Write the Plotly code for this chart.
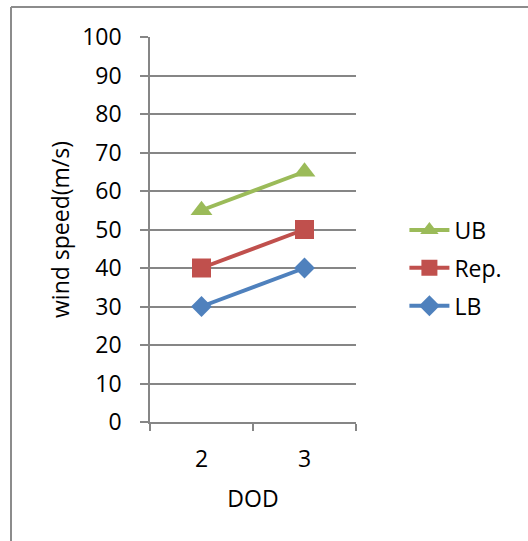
import plotly.graph_objects as go

categories = ["2", "3"]
ub_values = [55, 65]
rep_values = [40, 50]
lb_values = [30, 40]
y_ticks = [0, 10, 20, 30, 40, 50, 60, 70, 80, 90, 100]

FONT = "Open Sans"
GRID = "#868686"
FS = 23

fig = go.Figure()
series = [
    ("UB", ub_values, "#9BBB59", "triangle-up", 19),
    ("Rep.", rep_values, "#C0504D", "square", 19),
    ("LB", lb_values, "#4F81BD", "diamond", 16),
]
for name, vals, color, sym, size in series:
    fig.add_trace(go.Scatter(
        x=categories, y=vals, name=name, mode="lines+markers",
        line=dict(color=color, width=4),
        marker=dict(symbol=sym, size=size, color=color),
        legendgroup=name,
    ))

fig.update_layout(
    width=528, height=541,
    margin=dict(l=150, r=172, t=37, b=119),
    paper_bgcolor="white", plot_bgcolor="white",
    font=dict(family=FONT, size=FS, color="black"),
    showlegend=True,
    legend=dict(x=1.235, y=0.40, xanchor="left", yanchor="middle",
                tracegroupgap=5, itemwidth=40,
                font=dict(family=FONT, size=FS, color="black")),
    xaxis=dict(type="category", range=[-0.5, 1.5], showgrid=False,
               showline=True, linecolor=GRID, linewidth=1.5,
               ticks="outside", ticklen=7, tickcolor=GRID, tickwidth=1.5,
               tickson="boundaries", ticklabelstandoff=16,
               tickfont=dict(family=FONT, size=FS, color="black"),
               title=dict(text="DOD", standoff=18,
                          font=dict(family=FONT, size=FS, color="black"))),
    yaxis=dict(range=[0, 100], tickvals=y_ticks, showgrid=True,
               gridcolor=GRID, gridwidth=1.5, zeroline=False,
               showline=True, linecolor=GRID, linewidth=1.5,
               ticks="outside", ticklen=8, tickcolor=GRID, tickwidth=1.5,
               ticklabelstandoff=14,
               tickfont=dict(family=FONT, size=FS, color="black"),
               title=dict(text="wind speed(m/s)", standoff=6,
                          font=dict(family=FONT, size=FS, color="black"))),
    shapes=[
        dict(type="line", xref="paper", yref="paper",
             x0=(11 - 150) / 206, x1=(540 - 150) / 206,
             y0=(422 - 7) / 385, y1=(422 - 7) / 385,
             line=dict(color="#8C8C8C", width=2)),
        dict(type="line", xref="paper", yref="paper",
             x0=(11 - 150) / 206, x1=(11 - 150) / 206,
             y0=(422 - 7) / 385, y1=(422 - 560) / 385,
             line=dict(color="#8C8C8C", width=2)),
    ],
)

fig.write_html("out.html", config={"displayModeBar": False},
               post_script="document.body.style.margin='0';")
